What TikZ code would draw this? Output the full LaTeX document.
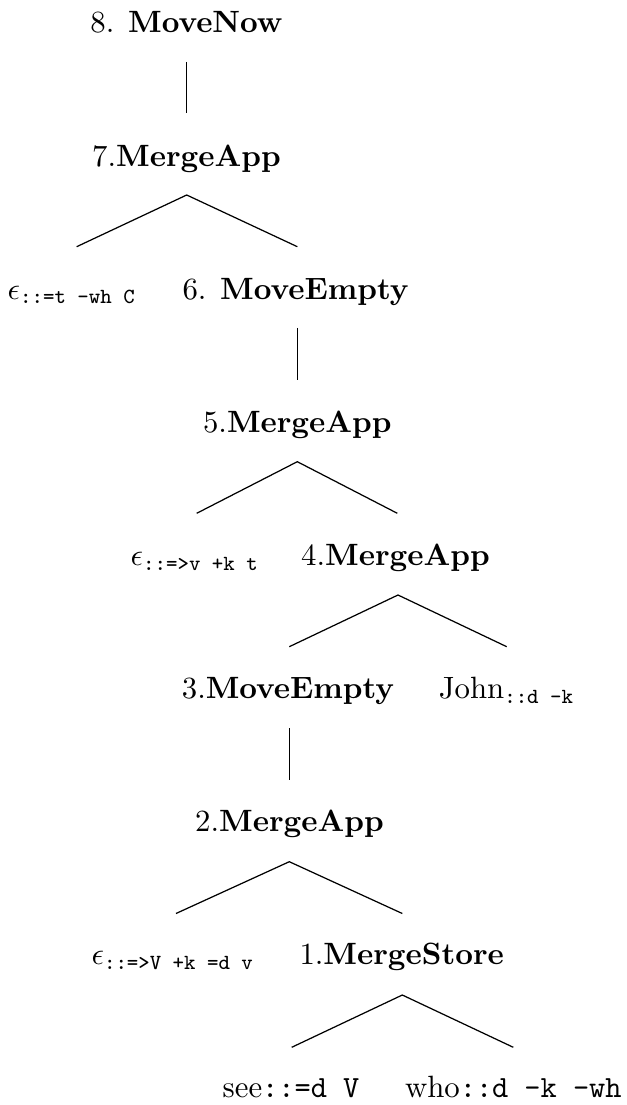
\documentclass[tikz,border=0pt]{standalone}
\usepackage{amsmath}
\begin{document}
\begin{tikzpicture}[x=0.3246pt,y=-0.3246pt,
  lbl/.style={anchor=base,inner sep=0pt},
  edge/.style={line width=0.4pt,black}]
\useasboundingbox (0,0) rectangle (626,1105);
% nodes
\node[lbl] (n8) at (186.5,33) {8. \textbf{MoveNow}};
\node[lbl] (n7) at (186.5,166.1) {7.\textbf{MergeApp}};
\node[lbl] (e1) at (72,299.2) {$\epsilon_{\text{\ttfamily ::=t -wh C}}$};
\node[lbl] (n6) at (295.5,299.2) {6. \textbf{MoveEmpty}};
\node[lbl] (n5) at (297.3,432.3) {5.\textbf{MergeApp}};
\node[lbl] (e2) at (195,565.4) {$\epsilon_{\text{\ttfamily ::=>v +k t}}$};
\node[lbl] (n4) at (395.5,565.4) {4.\textbf{MergeApp}};
\node[lbl] (n3) at (288,698.5) {3.\textbf{MoveEmpty}};
\node[lbl] (john) at (506.7,698.5) {John$_{\text{\ttfamily ::d -k}}$};
\node[lbl] (n2) at (289.5,831.6) {2.\textbf{MergeApp}};
\node[lbl] (e3) at (173,964.7) {$\epsilon_{\text{\ttfamily ::=>V +k =d v}}$};
\node[lbl] (n1) at (401.7,964.7) {1.\textbf{MergeStore}};
\node[lbl] (see) at (291,1097.8) {see\texttt{::=d V}};
\node[lbl] (who) at (513.3,1097.8) {who\texttt{::d -k -wh}};
% connector end points
\coordinate (n8b) at (186.7,62);   \coordinate (n7t) at (186.7,113);
\coordinate (n7b) at (186.7,195);  \coordinate (e1t) at (76.7,246.7);  \coordinate (n6t) at (297.3,246.7);
\coordinate (n6b) at (297.3,328);  \coordinate (n5t) at (297.3,380);
\coordinate (n5b) at (297.3,461.7); \coordinate (e2t) at (196.7,513.3); \coordinate (n4t) at (397.3,513.3);
\coordinate (n4b) at (398,595);    \coordinate (n3t) at (289.3,646.7); \coordinate (johnt) at (506.7,646.7);
\coordinate (n3b) at (289.3,728);  \coordinate (n2t) at (289.3,780);
\coordinate (n2b) at (289.3,861.7); \coordinate (e3t) at (176,913.5); \coordinate (n1t) at (402.3,913.5);
\coordinate (n1b) at (402.3,995);  \coordinate (seet) at (291.7,1047.3); \coordinate (whot) at (513.3,1047.3);
% connectors
\draw[edge] (n8b) -- (n7t);
\draw[edge] (e1t) -- (n7b) -- (n6t);
\draw[edge] (n6b) -- (n5t);
\draw[edge] (e2t) -- (n5b) -- (n4t);
\draw[edge] (n3t) -- (n4b) -- (johnt);
\draw[edge] (n3b) -- (n2t);
\draw[edge] (e3t) -- (n2b) -- (n1t);
\draw[edge] (seet) -- (n1b) -- (whot);
\end{tikzpicture}
\end{document}
